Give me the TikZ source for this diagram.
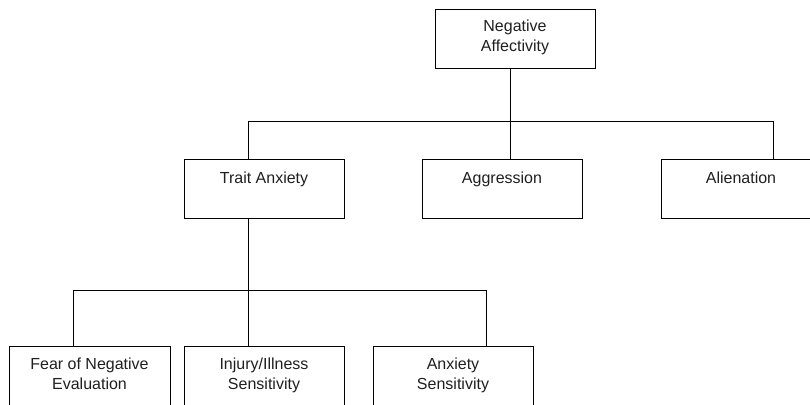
\documentclass[tikz,border=0pt]{standalone}
\usepackage{fontspec}
\setmainfont{Liberation Sans}
\begin{document}
\begin{tikzpicture}[x=1pt,y=-1pt,
  box/.style={draw, line width=1pt, minimum width=160pt, minimum height=59pt, inner sep=0pt, anchor=north west},
  lbl/.style={font=\fontsize{16}{19.5}\selectfont, align=center, anchor=base, inner sep=0pt, text=black!88},
  conn/.style={line width=0.9pt}]
\clip (0,0) rectangle (810,404);
% boxes
\node[box] (na) at (435,9) {};
\node[box] (ta) at (184,159) {};
\node[box] (ag) at (422,159) {};
\node[box] (al) at (661,159) {};
\node[box, minimum width=161pt] (fe) at (9,346) {};
\node[box] (ii) at (184,346) {};
\node[box] (as) at (373,346) {};
% labels (base = baseline of the last line)
\node[lbl] (tna) at (515,51.5) {Negative\\Affectivity};
\node[lbl] (tta) at (264,183) {Trait Anxiety};
\node[lbl] (tag) at (502,183) {Aggression};
\node[lbl] (tal) at (741,183) {Alienation};
\node[lbl] (tfe) at (89.5,389) {Fear of Negative\\Evaluation};
\node[lbl] (tii) at (264,389) {Injury/Illness\\Sensitivity};
\node[lbl] (tas) at (453,389) {Anxiety\\Sensitivity};
% junction coordinates
\coordinate (j1) at (510,121);
\coordinate (x1) at (248,121);
\coordinate (x3) at (773,121);
\coordinate (j2) at (248,290);
\coordinate (y1) at (73,290);
\coordinate (y3) at (486,290);
% connectors
\draw[conn] (na.south -| j1) -- (j1);
\draw[conn] (ta.north -| x1) -- (x1) -- (x3) -- (al.north -| x3);
\draw[conn] (j1) -- (ag.north -| j1);
\draw[conn] (ta.south -| j2) -- (j2);
\draw[conn] (fe.north -| y1) -- (y1) -- (y3) -- (as.north -| y3);
\draw[conn] (j2) -- (ii.north -| j2);
\end{tikzpicture}
\end{document}
